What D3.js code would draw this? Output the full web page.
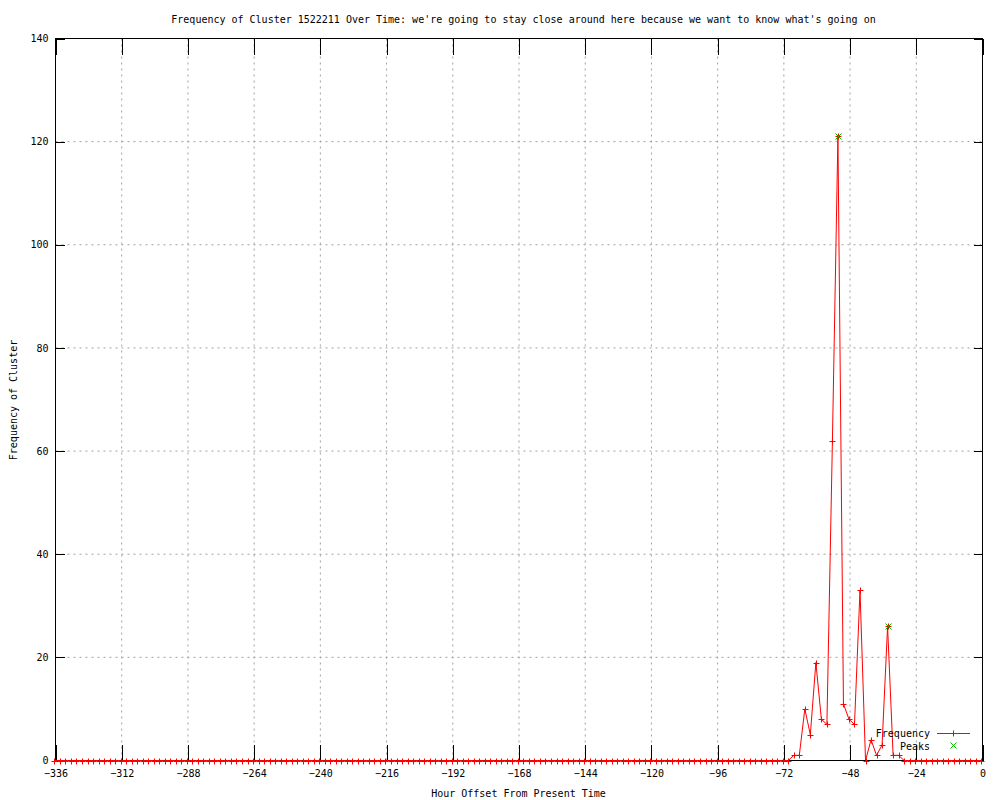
<!DOCTYPE html>
<html>
<head>
<meta charset="utf-8">
<script src="https://cdn.jsdelivr.net/npm/d3@7"></script>
<style>
body{margin:0;background:#fff;}
svg{display:block;}
text{font-family:"DejaVu Sans Mono","Liberation Mono",monospace;font-size:10px;fill:#000;}
</style>
</head>
<body>
<script>
// ---- data ----
const hours = [
-336.4,-334.4,-332.4,-330.4,-328.4,-326.4,-324.4,-322.4,-320.4,-318.4,-316.4,-314.4,
-312.4,-310.4,-308.4,-306.4,-304.4,-302.4,-300.4,-298.4,-296.4,-294.4,-292.4,-290.4,
-288.4,-286.4,-284.4,-282.4,-280.4,-278.4,-276.4,-274.4,-272.4,-270.4,-268.4,-266.4,
-264.4,-262.4,-260.4,-258.4,-256.4,-254.4,-252.4,-250.4,-248.4,-246.4,-244.4,-242.4,
-240.4,-238.4,-236.4,-234.4,-232.4,-230.4,-228.4,-226.4,-224.4,-222.4,-220.4,-218.4,
-216.4,-214.4,-212.4,-210.4,-208.4,-206.4,-204.4,-202.4,-200.4,-198.4,-196.4,-194.4,
-192.4,-190.4,-188.4,-186.4,-184.4,-182.4,-180.4,-178.4,-176.4,-174.4,-172.4,-170.4,
-168.4,-166.4,-164.4,-162.4,-160.4,-158.4,-156.4,-154.4,-152.4,-150.4,-148.4,-146.4,
-144.4,-142.4,-140.4,-138.4,-136.4,-134.4,-132.4,-130.4,-128.4,-126.4,-124.4,-122.4,
-120.4,-118.4,-116.4,-114.4,-112.4,-110.4,-108.4,-106.4,-104.4,-102.4,-100.4,-98.4,
-96.4,-94.4,-92.4,-90.4,-88.4,-86.4,-84.4,-82.4,-80.4,-78.4,-76.4,-74.4,
-72.4,-70.4,-68.4,-66.4,-64.4,-62.4,-60.4,-58.4,-56.4,-54.4,-52.4,-50.4,
-48.4,-46.4,-44.4,-42.4,-40.4,-38.4,-36.4,-34.4,-32.4,-30.4,-28.4,-26.4,
-24.4,-22.4,-20.4,-18.4,-16.4,-14.4,-12.4,-10.4,-8.4,-6.4,-4.4,-2.4,
-0.4
];
const frequency = [
0,0,0,0,0,0,0,0,0,0,0,0,
0,0,0,0,0,0,0,0,0,0,0,0,
0,0,0,0,0,0,0,0,0,0,0,0,
0,0,0,0,0,0,0,0,0,0,0,0,
0,0,0,0,0,0,0,0,0,0,0,0,
0,0,0,0,0,0,0,0,0,0,0,0,
0,0,0,0,0,0,0,0,0,0,0,0,
0,0,0,0,0,0,0,0,0,0,0,0,
0,0,0,0,0,0,0,0,0,0,0,0,
0,0,0,0,0,0,0,0,0,0,0,0,
0,0,0,0,0,0,0,0,0,0,0,0,
0,0,1,1,10,5,19,8,7,62,121,11,
8,7,33,0,4,1,3,26,1,1,0,0,
0,0,0,0,0,0,0,0,0,0,0,0,
0
];
const peakHours = [-52.4, -34.4];
const peakValues = [121, 26];
const xTicks = [-336,-312,-288,-264,-240,-216,-192,-168,-144,-120,-96,-72,-48,-24,0];
const yTicks = [0,20,40,60,80,100,120,140];
const titleText = "Frequency of Cluster 1522211 Over Time: we're going to stay close around here because we want to know what's going on";
const xLabel = "Hour Offset From Present Time";
const yLabel = "Frequency of Cluster";
const seriesNames = ["Frequency", "Peaks"];

// ---- layout ----
const W = 1000, H = 800;
const L = 55.5, R = 982.5, T = 38.5, B = 760.5;
const svg = d3.select("body").append("svg").attr("width", W).attr("height", H);

const x = d3.scaleLinear().domain([-336, 0]).range([L, R]);
const y = d3.scaleLinear().domain([0, 140]).range([B, T]);

const gridColor = "#a0a0a0";
const red = "#ff0000", green = "#00c000";

// grid
const grid = svg.append("g");
xTicks.filter(t => t > -336 && t < 0).forEach(t => {
  grid.append("line").attr("x1", x(t)).attr("x2", x(t)).attr("y1", T).attr("y2", B)
    .attr("stroke", gridColor).attr("stroke-dasharray", "2,4").attr("stroke-width", 1);
});
yTicks.filter(t => t > 0 && t < 140).forEach(t => {
  grid.append("line").attr("x1", L).attr("x2", R).attr("y1", y(t)).attr("y2", y(t))
    .attr("stroke", gridColor).attr("stroke-dasharray", "2,4").attr("stroke-width", 1);
});

// axes (bottom/left with labels, mirrored top/right ticks)
const xTickLen = 16, yTickLen = 9;
const gx = svg.append("g").attr("transform", `translate(0,${B})`)
  .call(d3.axisBottom(x).tickValues(xTicks).tickSize(-xTickLen).tickPadding(xTickLen + 8).tickFormat(d3.format("d")));
const gxt = svg.append("g").attr("transform", `translate(0,${T})`)
  .call(d3.axisTop(x).tickValues(xTicks).tickSize(-xTickLen).tickFormat(""));
const gy = svg.append("g").attr("transform", `translate(${L},0)`)
  .call(d3.axisLeft(y).tickValues(yTicks).tickSize(-yTickLen).tickPadding(yTickLen + 7).tickFormat(d3.format("d")));
const gyr = svg.append("g").attr("transform", `translate(${R},0)`)
  .call(d3.axisRight(y).tickValues(yTicks).tickSize(-yTickLen).tickFormat(""));
[gx, gxt, gy, gyr].forEach(g => {
  g.select(".domain").remove();
  g.selectAll(".tick line").attr("stroke", "#000").attr("shape-rendering", "crispEdges");
  g.selectAll("text").attr("font-family", null).attr("font-size", null).attr("fill", "#000");
});
gx.selectAll("text").attr("dy", "0.32em").attr("y", 13);
gy.selectAll("text").attr("x", -7);

// border
svg.append("rect").attr("x", L).attr("y", T).attr("width", R - L).attr("height", B - T)
  .attr("fill", "none").attr("stroke", "#000").attr("stroke-width", 1);

// data line
const pts = hours.map((h, i) => [h, frequency[i]]);
svg.append("path").datum(pts)
  .attr("d", d3.line().x(d => x(d[0])).y(d => y(d[1])))
  .attr("fill", "none").attr("stroke", red).attr("stroke-width", 1);

function plus(g, cx, cy, color) {
  const s = 3;
  g.append("path").attr("d", `M${cx - s},${cy}H${cx + s}M${cx},${cy - s}V${cy + s}`)
    .attr("stroke", color).attr("stroke-width", 1).attr("fill", "none");
}
function cross(g, cx, cy, color) {
  const s = 3;
  g.append("path").attr("d", `M${cx - s},${cy - s}L${cx + s},${cy + s}M${cx - s},${cy + s}L${cx + s},${cy - s}`)
    .attr("stroke", color).attr("stroke-width", 1).attr("fill", "none");
}
const marks = svg.append("g");
pts.forEach(d => plus(marks, Math.round(x(d[0])) + 0.5, Math.round(y(d[1])) + 0.5, red));
peakHours.forEach((h, i) => cross(marks, Math.round(x(h)) + 0.5, Math.round(y(peakValues[i])) + 0.5, green));

// legend
const leg = svg.append("g");
leg.append("text").attr("x", 930).attr("y", 733).attr("dy", "0.35em").attr("text-anchor", "end").text(seriesNames[0]);
leg.append("line").attr("x1", 937).attr("x2", 970).attr("y1", 733.5).attr("y2", 733.5).attr("stroke", red);
plus(leg, 953.5, 733.5, red);
leg.append("text").attr("x", 930).attr("y", 746).attr("dy", "0.35em").attr("text-anchor", "end").text(seriesNames[1]);
cross(leg, 953.5, 745.5, green);

// title & labels
svg.append("text").attr("x", 523.5).attr("y", 19).attr("dy", "0.35em").attr("text-anchor", "middle").text(titleText);
svg.append("text").attr("x", 518.5).attr("y", 793).attr("dy", "0.35em").attr("text-anchor", "middle").text(xLabel);
svg.append("text").attr("transform", "translate(13.5,400) rotate(-90)").attr("dy", "0.35em").attr("text-anchor", "middle").text(yLabel);
</script>
</body>
</html>
